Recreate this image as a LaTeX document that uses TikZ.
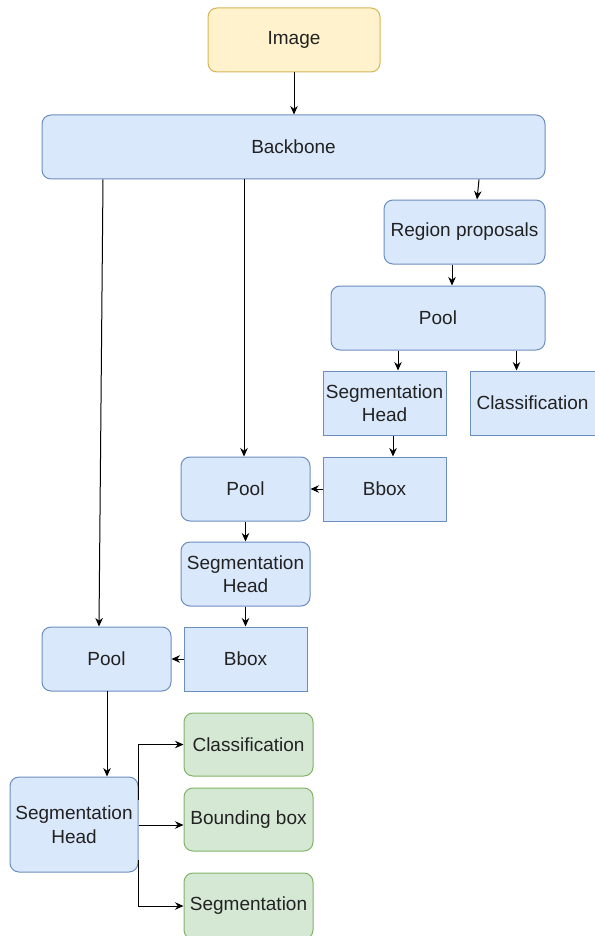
\documentclass[tikz,border=0pt]{standalone}
\usepackage{fontspec}
\setmainfont{Liberation Sans}
\usetikzlibrary{arrows.meta,calc}
\definecolor{bfill}{HTML}{DAE8FC}
\definecolor{bline}{HTML}{6C8EBF}
\definecolor{yfill}{HTML}{FFF2CC}
\definecolor{yline}{HTML}{D6B656}
\definecolor{gfill}{HTML}{D5E8D4}
\definecolor{gline}{HTML}{82B366}
\definecolor{txt}{HTML}{222222}
\begin{document}
\begin{tikzpicture}[x=1pt,y=-1pt,
  base/.style={draw, line width=1pt, inner sep=2pt, align=center, text=txt,
    font=\fontsize{19}{23.5}\selectfont, minimum height=64pt},
  rbox/.style={base, rounded corners=9pt, fill=bfill, draw=bline},
  sbox/.style={base, fill=bfill, draw=bline},
  ybox/.style={base, rounded corners=9pt, fill=yfill, draw=yline},
  gbox/.style={base, rounded corners=9pt, fill=gfill, draw=gline},
  arr/.style={-{Stealth[length=8.5pt,width=7.5pt]}, line width=1pt, black}]
\useasboundingbox (0,0) rectangle (594,936);
\fill[white] (0,0) rectangle (594,936);

\node[ybox, minimum width=172pt] (img) at (294,40) {Image};
\node[rbox, minimum width=503pt] (bb) at (293.5,147) {Backbone};
\node[rbox, minimum width=161pt] (rp) at (464.5,232) {Region proposals};
\node[rbox, minimum width=214pt] (pool1) at (438,318) {Pool};
\node[sbox, minimum width=123pt] (sh1) at (384.5,403) {Segmentation\\Head};
\node[sbox, minimum width=125pt] (cls1) at (532.5,403) {Classification};
\node[sbox, minimum width=123pt] (bbox1) at (384.5,489) {Bbox};
\node[rbox, minimum width=129pt] (pool2) at (245.5,489) {Pool};
\node[rbox, minimum width=129pt] (sh2) at (245.5,574) {Segmentation\\Head};
\node[sbox, minimum width=123pt] (bbox2) at (245.5,659) {Bbox};
\node[rbox, minimum width=129pt] (pool3) at (106.5,659) {Pool};
\node[rbox, minimum width=128pt, minimum height=95pt] (sh3) at (74,824.5) {Segmentation\\Head};
\node[gbox, minimum width=129pt, minimum height=63pt] (cls3) at (248.5,744.5) {Classification};
\node[gbox, minimum width=129pt, minimum height=63pt] (bb3) at (248.5,819.5) {Bounding box};
\node[gbox, minimum width=129pt, minimum height=66pt] (seg3) at (248.5,906) {Segmentation};

\draw[arr] (img.south) -- (bb.north -| img.south);
\draw[arr] ($(rp.north |- bb.south)+(14.5,0)$) -- ($(rp.north)+(12.5,0)$);
\draw[arr] ($(rp.south)+(-12.5,0)$) -- ($(pool1.north -| rp.south)+(-12.5,0)$);
\draw[arr] ($(sh1.north |- pool1.south)+(13.5,0)$) -- ($(sh1.north)+(13.5,0)$);
\draw[arr] ($(cls1.north |- pool1.south)+(-16,0)$) -- ($(cls1.north)+(-16,0)$);
\draw[arr] ($(sh1.south)+(8.5,0)$) -- ($(bbox1.north)+(8.5,0)$);
\draw[arr] (bbox1.west) -- (pool2.east);
\draw[arr] ($(pool2.north |- bb.south)+(-1.5,0)$) -- ($(pool2.north)+(-1.5,0)$);
\draw[arr] (pool2.south) -- (sh2.north);
\draw[arr] (sh2.south) -- (bbox2.north);
\draw[arr] (bbox2.west) -- (pool3.east);
\draw[arr] ($(pool3.north |- bb.south)+(-3.5,0)$) -- ($(pool3.north)+(-7.5,0)$);
\draw[arr] ($(sh3.north -| pool3.south)+(0.5,0) - (0,86)$) -- ($(sh3.north -| pool3.south)+(0.5,0)$);
\draw[arr] ($(sh3.east)+(0,-24.5)$) |- (cls3.west);
\draw[arr] ($(sh3.east)+(0,0.5)$) -- ($(sh3.east -| bb3.west)+(0,0.5)$);
\draw[arr] ($(sh3.east)+(0,35.5)$) |- (seg3.west);
\end{tikzpicture}
\end{document}
